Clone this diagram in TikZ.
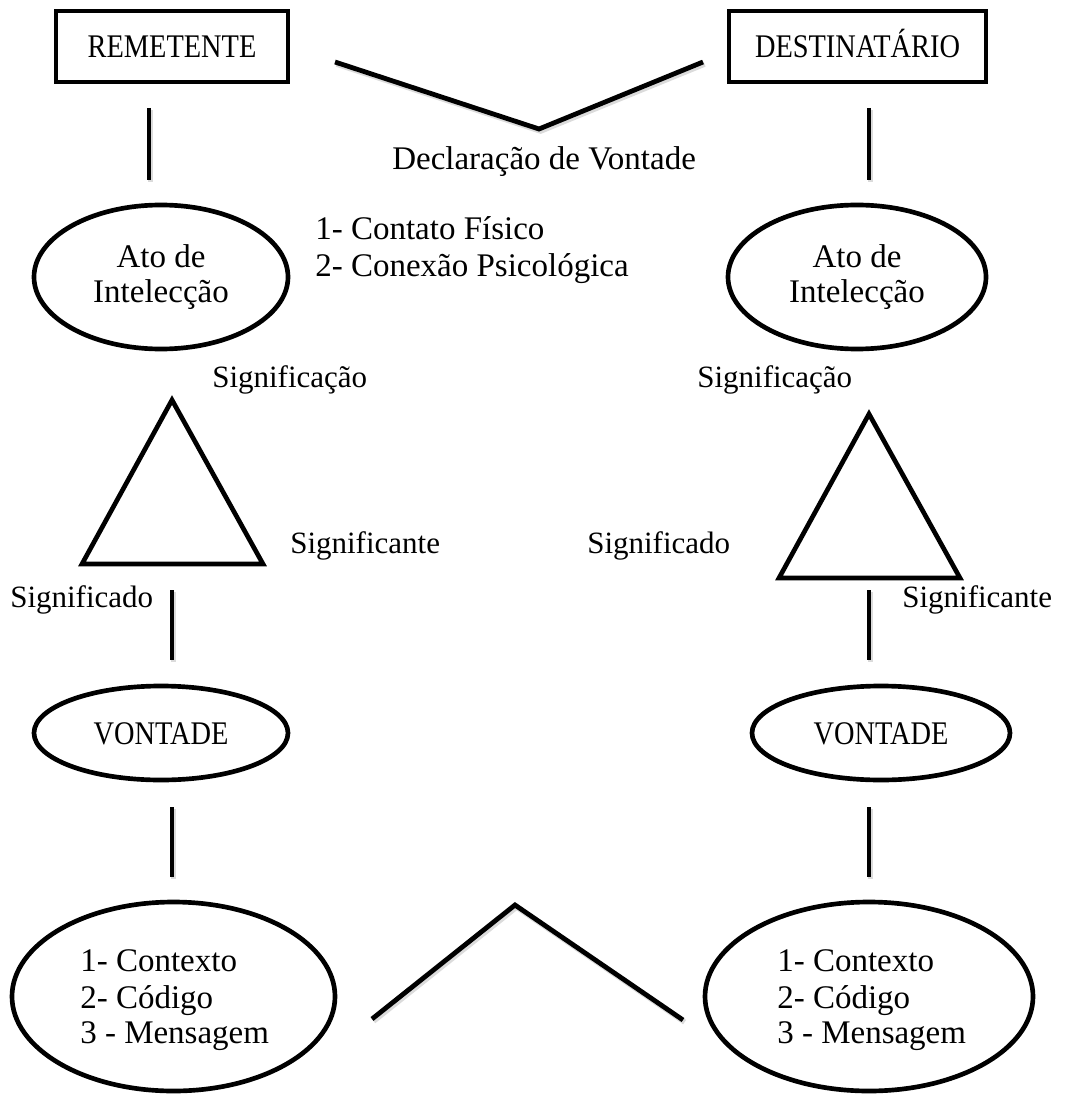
\documentclass[tikz,border=0pt]{standalone}
\usepackage{fontspec}
\setmainfont{Liberation Serif}
\newfontfamily\capsfont[FakeStretch=0.86]{Liberation Serif}
\usetikzlibrary{shapes.geometric}
\begin{document}
\begin{tikzpicture}[x=0.75pt,y=-0.75pt,
  stroke/.style={line width=3.5pt},
  link/.style={line width=3.6pt,
    preaction={draw=black!14, line width=4pt, transform canvas={shift={(1.2pt,-1.6pt)}}}},
  txt/.style={inner sep=0pt, anchor=base west, font=\fontsize{24.75pt}{29pt}\selectfont},
  ctxt/.style={inner sep=0pt, anchor=base, font=\fontsize{24.75pt}{29pt}\selectfont},
  lbl/.style={inner sep=0pt, anchor=base west, font=\fontsize{23.25pt}{28pt}\selectfont},
  actor/.style={draw, line width=3.5pt, rectangle, inner sep=0pt, minimum height=53.25pt,
    text height=16.5pt, text depth=0pt, font=\capsfont\fontsize{24.75pt}{29pt}\selectfont},
  oval/.style={draw, line width=3.5pt, ellipse, inner sep=0pt},
  capsoval/.style={oval, text height=16.5pt, text depth=0pt, font=\capsfont\fontsize{24.75pt}{29pt}\selectfont},
]
\useasboundingbox (0,0) rectangle (1074,1094);

% top boxes
\node[actor, minimum width=174pt] (rem) at (172,46.5) {REMETENTE};
\node[actor, minimum width=192.75pt] (dest) at (857.5,46.5) {DESTINATÁRIO};

% top V
\coordinate (tvl) at (335,62);
\coordinate (tva) at (539,129);
\coordinate (tvr) at (703,62);
\draw[link] (tvl) -- (tva) -- (tvr);
\node[txt] (decl) at (392,170) {Declaração de Vontade};

% contact list
\node[txt] (c1) at (315,240) {1- Contato Físico};
\node[txt] (c2) at (315,277) {2- Conexão Psicológica};

% first vertical links
\coordinate (l1a) at (149,108); \coordinate (l1b) at (149,180);
\coordinate (r1a) at (869,108); \coordinate (r1b) at (869,180);
\draw[link] (l1a) -- (l1b);
\draw[link] (r1a) -- (r1b);

% Ato de Intelecção ellipses
\node[oval, minimum width=190.5pt, minimum height=108pt] (atoL) at (161,277) {};
\node[oval, minimum width=193.5pt, minimum height=108pt] (atoR) at (857,277) {};
\node[ctxt] (atoL1) at (161,268) {Ato de};
\node[ctxt] (atoL2) at (161,303) {Intelecção};
\node[ctxt] (atoR1) at (857,268) {Ato de};
\node[ctxt] (atoR2) at (857,303) {Intelecção};

% triangles
\coordinate (tLa) at (172,400); \coordinate (tLb) at (82,564); \coordinate (tLc) at (263,564);
\coordinate (tRa) at (869,414); \coordinate (tRb) at (779,578); \coordinate (tRc) at (960,578);
\draw[stroke] (tLa) -- (tLb) -- (tLc) -- cycle;
\draw[stroke] (tRa) -- (tRb) -- (tRc) -- cycle;

\node[lbl] (sgL1) at (212,387) {Significação};
\node[lbl] (sgL2) at (290,553) {Significante};
\node[lbl] (sgL3) at (10,607) {Significado};
\node[lbl] (sgR1) at (697,387) {Significação};
\node[lbl] (sgR3) at (587,553) {Significado};
\node[lbl] (sgR2) at (902,607) {Significante};

% second vertical links
\coordinate (l2a) at (172,590); \coordinate (l2b) at (172,660);
\coordinate (r2a) at (869,590); \coordinate (r2b) at (869,660);
\draw[link] (l2a) -- (l2b);
\draw[link] (r2a) -- (r2b);

% VONTADE ellipses
\node[capsoval, minimum width=190.5pt, minimum height=70.5pt] (vonL) at (161,733) {VONTADE};
\node[capsoval, minimum width=193.5pt, minimum height=70.5pt] (vonR) at (881,733) {VONTADE};

% third vertical links
\coordinate (l3a) at (172,807); \coordinate (l3b) at (172,877);
\coordinate (r3a) at (869,807); \coordinate (r3b) at (869,877);
\draw[link] (l3a) -- (l3b);
\draw[link] (r3a) -- (r3b);

% bottom ellipses
\node[oval, minimum width=242.25pt, minimum height=141.75pt] (ctxL) at (173.5,996.5) {};
\node[oval, minimum width=246pt, minimum height=141.75pt] (ctxR) at (869,996.5) {};
\node[txt] (bl1) at (80,971) {1- Contexto};
\node[txt] (bl2) at (80,1008) {2- Código};
\node[txt] (bl3) at (80,1043) {3 - Mensagem};
\node[txt] (br1) at (777,971) {1- Contexto};
\node[txt] (br2) at (777,1008) {2- Código};
\node[txt] (br3) at (777,1043) {3 - Mensagem};

% bottom inverted V
\coordinate (bvl) at (372,1019);
\coordinate (bva) at (515,905);
\coordinate (bvr) at (683,1020);
\draw[link] (bvl) -- (bva) -- (bvr);
\end{tikzpicture}
\end{document}
